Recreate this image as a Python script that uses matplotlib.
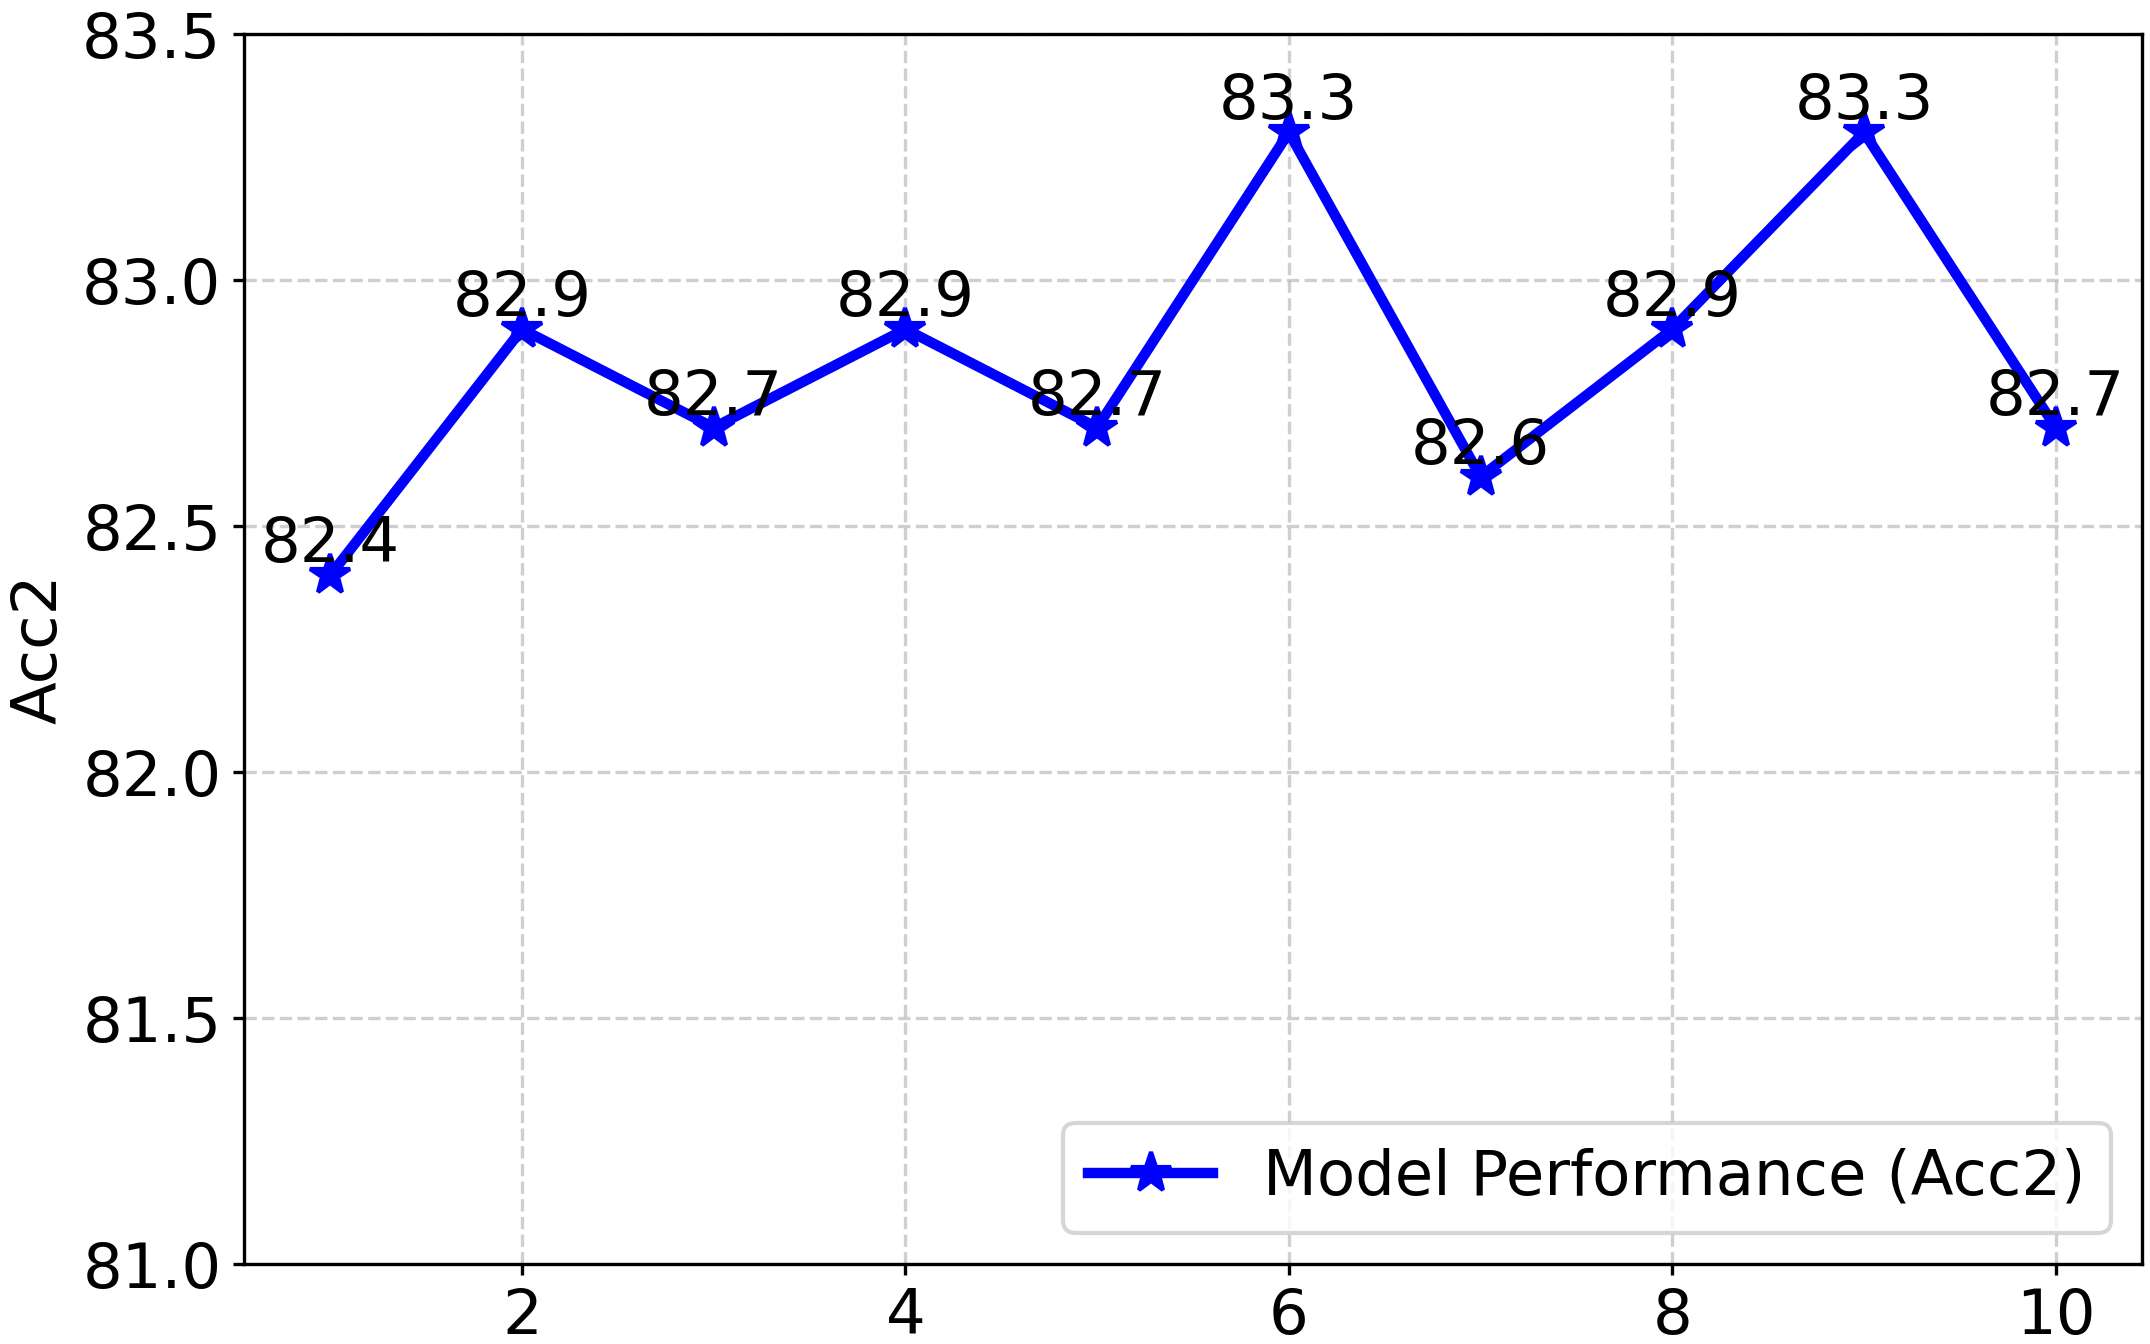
import matplotlib
matplotlib.use("Agg")
import matplotlib.pyplot as plt
import numpy as np

# data
epochs = [1, 2, 3, 4, 5, 6, 7, 8, 9, 10]
acc2 = [82.4, 82.9, 82.7, 82.9, 82.7, 83.3, 82.6, 82.9, 83.3, 82.7]

fig = plt.figure(figsize=(2150 / 300, 1344 / 300), dpi=300)
ax = fig.add_axes([244 / 2150, 1 - 1264 / 1344, (2142 - 244) / 2150, (1264 - 34) / 1344])

ax.plot(epochs, acc2, color='blue', marker='*', linewidth=2.5, markersize=10,
        label='Model Performance (Acc2)')

# 数値ラベル
for x, y in zip(epochs, acc2):
    ax.text(x, y, f'{y}', ha='center', va='bottom', fontsize=15)

ax.set_ylabel('Acc2', fontsize=15, labelpad=3)
ax.set_ylim(81.0, 83.5)
ax.set_yticks(np.arange(81.0, 83.51, 0.5))
ax.tick_params(labelsize=15, length=2.7, pad=2.7)
ax.grid(True, linestyle='--', alpha=0.6)
ax.legend(loc='lower right', fontsize=15)

fig.savefig('out.png', dpi=300)
